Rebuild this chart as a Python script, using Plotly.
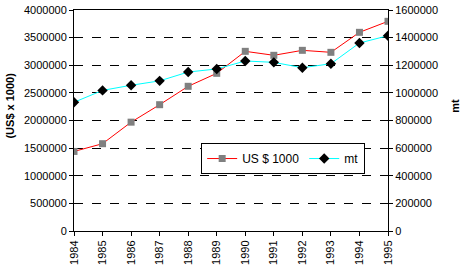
import plotly.graph_objects as go

years = [1984, 1985, 1986, 1987, 1988, 1989, 1990, 1991, 1992, 1993, 1994, 1995]
us_dollars = [1440000, 1580000, 1970000, 2286000, 2619000, 2854000,
              3252000, 3180000, 3270000, 3234000, 3596000, 3795000]
mt = [932000, 1018000, 1055000, 1087000, 1151000, 1173000,
      1231000, 1221000, 1182000, 1211000, 1361000, 1414000]

left_ticks = list(range(0, 4000001, 500000))
right_ticks = list(range(0, 1600001, 200000))

fig = go.Figure()
fig.add_trace(go.Scatter(x=years, y=us_dollars, name="US $ 1000", mode="lines+markers",
                         line=dict(color="#ff0000", width=1),
                         marker=dict(symbol="square", size=7, color="#808080")))
fig.add_trace(go.Scatter(x=years, y=mt, name="mt", mode="lines+markers", yaxis="y2",
                         line=dict(color="#00ffff", width=1),
                         marker=dict(symbol="diamond", size=8, color="#000000")))

fig.update_layout(
    width=465, height=265,
    margin=dict(l=74, r=77, t=10, b=34, autoexpand=False),
    paper_bgcolor="white", plot_bgcolor="white",
    font=dict(family="Liberation Sans, Arial", size=11, color="black"),
    xaxis=dict(range=[1984, 1995], tickvals=years, ticktext=[str(y) for y in years],
               tickangle=-90, showgrid=False, zeroline=False, automargin=False,
               showline=True, linecolor="black", linewidth=1, mirror=True,
               ticks="outside", ticklen=4, tickcolor="black"),
    yaxis=dict(range=[0, 4000000], tickvals=left_ticks, ticktext=[str(v) for v in left_ticks],
               showgrid=True, gridcolor="black", gridwidth=1, griddash="dash",
               zeroline=False, showline=True, linecolor="black", linewidth=1,
               ticks="outside", ticklen=4, tickcolor="black", automargin=False),
    yaxis2=dict(range=[0, 1600000], tickvals=right_ticks, ticktext=[str(v) for v in right_ticks],
                overlaying="y", side="right", showgrid=False, zeroline=False,
                showline=True, linecolor="black", linewidth=1, automargin=False,
                ticks="outside", ticklen=4, tickcolor="black"),
    legend=dict(orientation="h", x=0.405, y=0.398, xanchor="left", yanchor="top",
                bgcolor="white", bordercolor="black", borderwidth=1,
                font=dict(size=12)),
    showlegend=True,
)

fig.add_annotation(text="<b>(US$ x 1000)</b>", textangle=-90, xref="paper", yref="paper",
                   x=-0.205, y=0.566, xanchor="center", yanchor="middle",
                   showarrow=False, font=dict(size=11))
fig.add_annotation(text="<b>mt</b>", textangle=-90, xref="paper", yref="paper",
                   x=1.213, y=0.566, xanchor="center", yanchor="middle",
                   showarrow=False, font=dict(size=11))

# drop the default page margin so the figure sits at the window's corner
fig.write_html("out.html", config={"displayModeBar": False},
               post_script="document.body.style.margin='0';")
